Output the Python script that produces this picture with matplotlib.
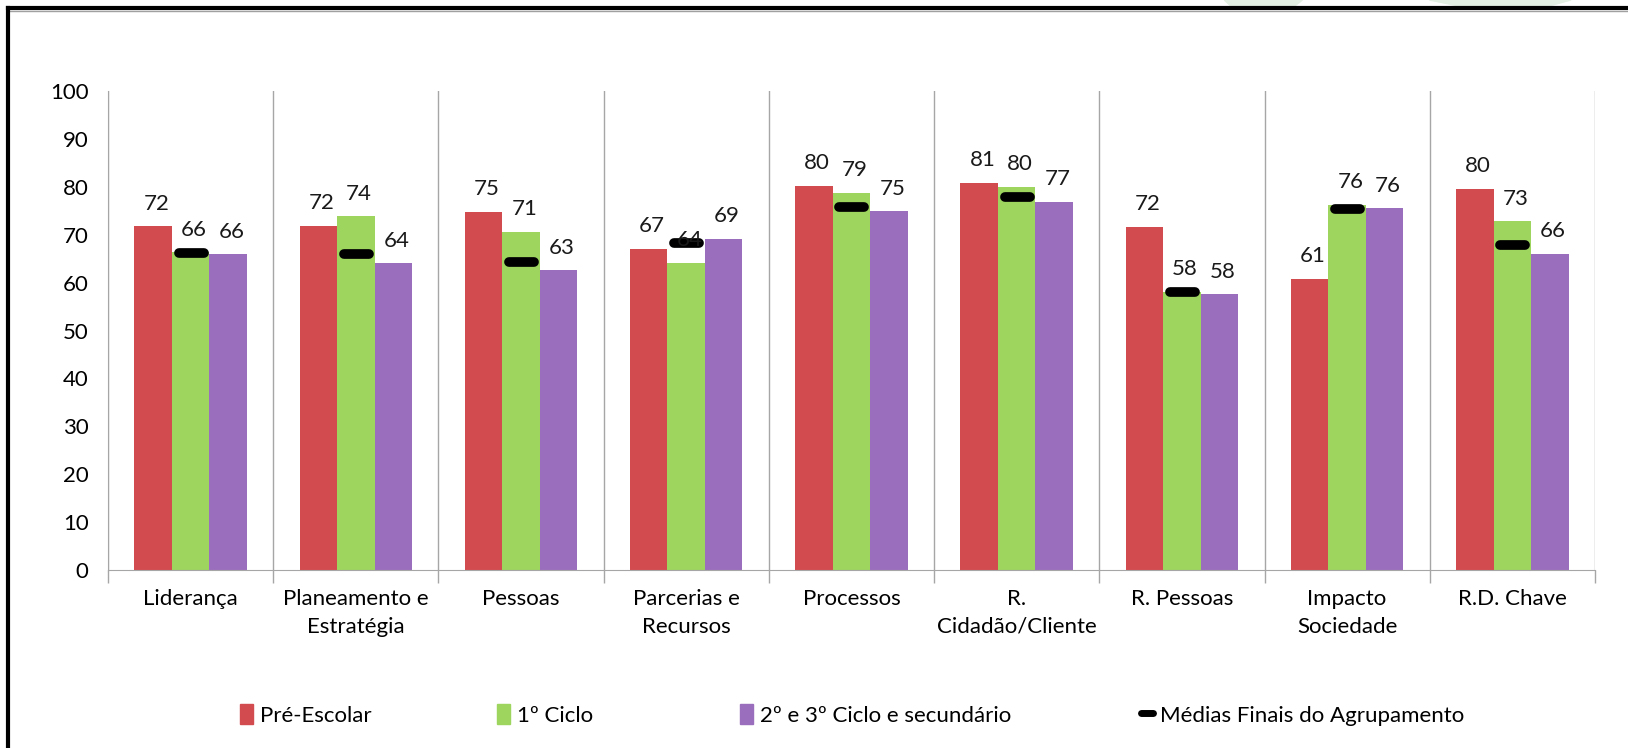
import matplotlib.pyplot as plt
from matplotlib.markers import MarkerStyle
from matplotlib.patches import Polygon
from matplotlib.lines import Line2D
from matplotlib.patches import Patch
import numpy as np

plt.rcParams['font.family'] = ['Lato', 'DejaVu Sans']

# data
categories = ['Liderança', 'Planeamento e\nEstratégia', 'Pessoas', 'Parcerias e\nRecursos',
              'Processos', 'R.\nCidadão/Cliente', 'R. Pessoas', 'Impacto\nSociedade', 'R.D. Chave']
pre_escolar = [71.8, 71.9, 74.8, 67.1, 80.3, 80.9, 71.7, 60.8, 79.6]
ciclo1 = [66.4, 73.9, 70.7, 64.2, 78.8, 80.1, 58.1, 76.3, 72.9]
ciclo23 = [65.9, 64.1, 62.6, 69.2, 74.9, 76.9, 57.6, 75.6, 66.1]
medias = [66.2, 66.1, 64.4, 68.3, 75.9, 77.9, 58.1, 75.3, 67.8]
series_names = ['Pré-Escolar', '1º Ciclo', '2º e 3º Ciclo e secundário', 'Médias Finais do Agrupamento']

c_red = '#D24B4E'
c_green = '#9DD55F'
c_purple = '#9A6EBC'
gray = '#A6A6A6'

fig = plt.figure(figsize=(16.28, 7.48), dpi=100)
ax = fig.add_axes([0.0663, 0.238, 0.9134, 0.640])

x = np.arange(len(categories))
w = 0.227
ax.bar(x - w, pre_escolar, w, color=c_red)
ax.bar(x, ciclo1, w, color=c_green)
ax.bar(x + w, ciclo23, w, color=c_purple)

for vals, off in [(pre_escolar, -w), (ciclo1, 0), (ciclo23, w)]:
    for xi, v in zip(x, vals):
        ax.text(xi + off + 0.02, v + 2.6, '%d' % round(v), ha='center', va='bottom',
                fontsize=16, color='#1a1a1a')

dash = MarkerStyle('_', capstyle='round')
ax.plot(x, medias, linestyle='none', marker=dash, markersize=18,
        markeredgewidth=7, color='black')

ax.set_xlim(-0.5, len(categories) - 0.5)
ax.set_ylim(0, 100)
ax.set_yticks(range(0, 101, 10))
ax.set_xticks(x)
ax.set_xticklabels(categories, fontsize=16, linespacing=1.45)
ax.tick_params(axis='x', length=0, pad=14)
ax.tick_params(axis='y', length=0, pad=14, labelsize=16)

# category separators
ax.set_xticks(np.arange(-0.5, len(categories), 1), minor=True)
ax.tick_params(axis='x', which='minor', length=9, color=gray, width=1)
ax.grid(True, which='minor', axis='x', color=gray, linewidth=1)
ax.set_axisbelow(True)
for s in ['top', 'right']:
    ax.spines[s].set_visible(False)
for s in ['left', 'bottom']:
    ax.spines[s].set_color(gray)

# faint green background shapes above the frame
fig.patches.append(Polygon([[0.752, 1.0], [0.800, 1.0], [0.793, 0.988], [0.758, 0.988]],
                           closed=True, transform=fig.transFigure, color='#E2EFE2', zorder=0))
fig.patches.append(Polygon([[0.878, 1.0], [0.965, 1.0], [0.945, 0.988], [0.905, 0.988]],
                           closed=True, transform=fig.transFigure, color='#E2EFE2', zorder=0))

# frame
fig.add_artist(Line2D([0.005, 1.0], [0.9895, 0.9895], transform=fig.transFigure, color='black', linewidth=3))
fig.add_artist(Line2D([0.005, 1.0], [0.985, 0.985], transform=fig.transFigure, color='#A0A0A0', linewidth=1))
fig.add_artist(Line2D([0.005, 0.005], [0.0, 0.9895], transform=fig.transFigure, color='black', linewidth=3))

# legend entries spread the way Excel does
handles = [Patch(color=c_red), Patch(color=c_green), Patch(color=c_purple),
           Line2D([], [], linestyle='none', marker=dash, markersize=9, markeredgewidth=5, color='black')]
xs = [0.135, 0.293, 0.442, 0.688]
for h, name, xp in zip(handles, series_names, xs):
    fig.legend([h], [name], loc='center left', bbox_to_anchor=(xp, 0.044), frameon=False,
               fontsize=16, handlelength=0.6, handleheight=1.0, handletextpad=0.3)

fig.savefig('out.png', dpi=100)
